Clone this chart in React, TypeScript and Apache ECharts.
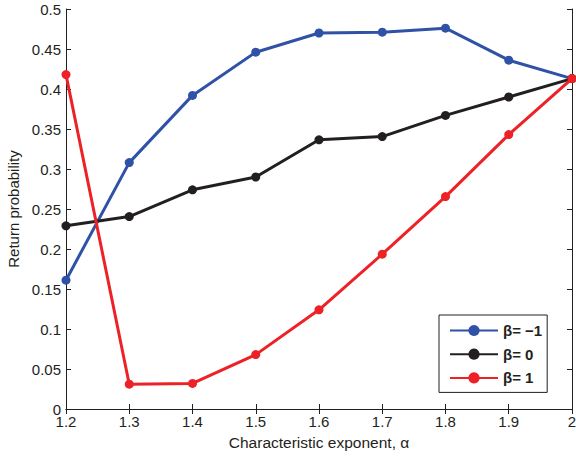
import React, { useEffect, useRef } from "react";
import * as echarts from "echarts";

const alphas = [1.2, 1.3, 1.4, 1.5, 1.6, 1.7, 1.8, 1.9, 2.0];
const betaNeg1 = [0.161, 0.308, 0.392, 0.446, 0.47, 0.471, 0.476, 0.436, 0.413];
const beta0 = [0.229, 0.2405, 0.274, 0.29, 0.3365, 0.3405, 0.367, 0.39, 0.413];
const beta1 = [0.418, 0.031, 0.032, 0.068, 0.124, 0.1935, 0.2655, 0.343, 0.413];
const seriesNames = ["β= −1", "β= 0", "β= 1"];
const colors = ["#2f52a6", "#231f20", "#ec2227"];

export default function App() {
  const ref = useRef<HTMLDivElement>(null);
  useEffect(() => {
    if (!ref.current) return;
    const chart = echarts.init(ref.current, null, { renderer: "svg" });
    const font = "Liberation Sans, Arial, sans-serif";
    const allData = [betaNeg1, beta0, beta1];
    const axisLine = { show: true, lineStyle: { color: "#231f20", width: 1 } };
    const axisTick = { show: true, inside: true, length: 5, lineStyle: { color: "#231f20" } };
    chart.setOption({
      animation: false,
      backgroundColor: "#ffffff",
      grid: {
        left: 66,
        right: 4,
        top: 9,
        bottom: 47,
        containLabel: false,
        outerBoundsMode: "none",
      },
      legend: {
        orient: "vertical",
        left: 439,
        top: 315,
        data: seriesNames,
        itemWidth: 48,
        itemHeight: 14,
        itemGap: 8.7,
        padding: [8, 5, 7, 10],
        borderColor: "#231f20",
        borderWidth: 1,
        backgroundColor: "#ffffff",
        textStyle: { fontFamily: font, fontSize: 15, fontWeight: "bold", color: "#231f20" },
      },
      xAxis: [
        {
          type: "value",
          min: 1.2,
          max: 2,
          interval: 0.1,
          name: "Characteristic exponent, α",
          nameLocation: "middle",
          nameGap: 25,
          nameTextStyle: { fontFamily: font, fontSize: 15.5, color: "#231f20" },
          axisLine,
          axisTick,
          splitLine: { show: false },
          axisLabel: {
            fontFamily: font,
            fontSize: 15,
            color: "#231f20",
            margin: 5,
            formatter: (v: number) => String(Math.round(v * 10) / 10),
          },
        },
        {
          type: "value",
          position: "top",
          min: 1.2,
          max: 2,
          interval: 0.1,
          axisLine,
          axisTick,
          axisLabel: { show: false },
          splitLine: { show: false },
        },
      ],
      yAxis: [
        {
          type: "value",
          min: 0,
          max: 0.5,
          interval: 0.05,
          name: "Return probability",
          nameLocation: "middle",
          nameGap: 44,
          nameTextStyle: { fontFamily: font, fontSize: 15, color: "#231f20" },
          axisLine,
          axisTick,
          splitLine: { show: false },
          axisLabel: {
            fontFamily: font,
            fontSize: 15,
            color: "#231f20",
            margin: 5,
            formatter: (v: number) => String(Math.round(v * 100) / 100),
          },
        },
        {
          type: "value",
          position: "right",
          min: 0,
          max: 0.5,
          interval: 0.05,
          axisLine,
          axisTick,
          axisLabel: { show: false },
          splitLine: { show: false },
        },
      ],
      series: allData.map((vals, i) => ({
        name: seriesNames[i],
        type: "line",
        data: alphas.map((a, j) => [a, vals[j]]),
        symbol: "circle",
        symbolSize: 9,
        lineStyle: { width: 3, color: colors[i] },
        itemStyle: { color: colors[i] },
        clip: false,
        z: 3 + i,
      })),
    });
    return () => chart.dispose();
  }, []);
  return <div ref={ref} style={{ width: 576, height: 456, position: "absolute", left: 0, top: 0 }} />;
}
